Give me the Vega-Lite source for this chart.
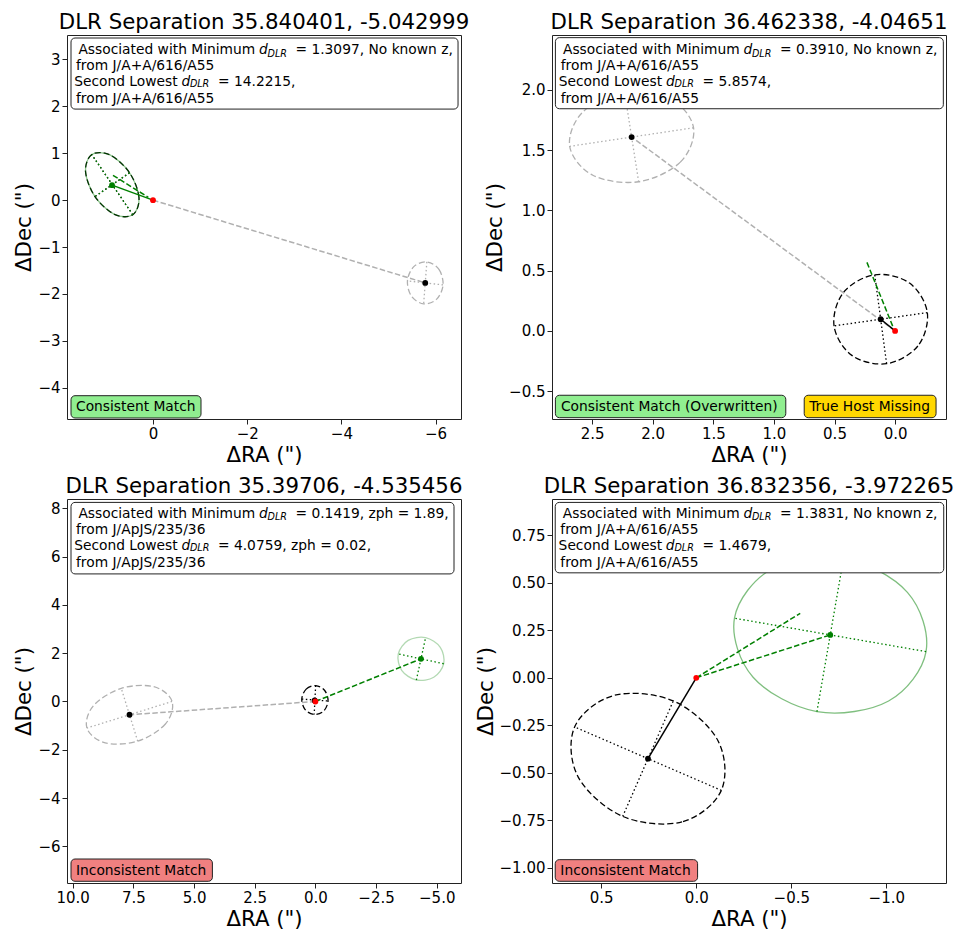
{
"$schema": "https://vega.github.io/schema/vega-lite/v6.json",
"padding": {"left": 13, "top": 11, "right": 5, "bottom": 5},
"columns": 2,
"spacing": {"row": 80, "column": 91},
"bounds": "flush",
"datasets": {
"ell": [
{"panel":"TL","id":"TL1","role":"best","k":0,"x":0.430,"y":-0.312},
{"panel":"TL","id":"TL1","role":"best","k":1,"x":0.298,"y":0.056},
{"panel":"TL","id":"TL1","role":"best","k":2,"x":0.498,"y":0.584},
{"panel":"TL","id":"TL1","role":"best","k":3,"x":0.913,"y":0.964},
{"panel":"TL","id":"TL1","role":"best","k":4,"x":1.300,"y":0.972},
{"panel":"TL","id":"TL1","role":"best","k":5,"x":1.432,"y":0.604},
{"panel":"TL","id":"TL1","role":"best","k":6,"x":1.232,"y":0.076},
{"panel":"TL","id":"TL1","role":"best","k":7,"x":0.817,"y":-0.304},
{"panel":"TL","id":"TL2","role":"true","k":0,"x":0.430,"y":-0.312},
{"panel":"TL","id":"TL2","role":"true","k":1,"x":0.298,"y":0.056},
{"panel":"TL","id":"TL2","role":"true","k":2,"x":0.498,"y":0.584},
{"panel":"TL","id":"TL2","role":"true","k":3,"x":0.913,"y":0.964},
{"panel":"TL","id":"TL2","role":"true","k":4,"x":1.300,"y":0.972},
{"panel":"TL","id":"TL2","role":"true","k":5,"x":1.432,"y":0.604},
{"panel":"TL","id":"TL2","role":"true","k":6,"x":1.232,"y":0.076},
{"panel":"TL","id":"TL2","role":"true","k":7,"x":0.817,"y":-0.304},
{"panel":"TL","id":"TL3","role":"second","k":0,"x":-5.814,"y":-1.317},
{"panel":"TL","id":"TL3","role":"second","k":1,"x":-6.071,"y":-1.479},
{"panel":"TL","id":"TL3","role":"second","k":2,"x":-6.158,"y":-1.808},
{"panel":"TL","id":"TL3","role":"second","k":3,"x":-6.023,"y":-2.112},
{"panel":"TL","id":"TL3","role":"second","k":4,"x":-5.746,"y":-2.213},
{"panel":"TL","id":"TL3","role":"second","k":5,"x":-5.489,"y":-2.051},
{"panel":"TL","id":"TL3","role":"second","k":6,"x":-5.402,"y":-1.722},
{"panel":"TL","id":"TL3","role":"second","k":7,"x":-5.537,"y":-1.418},
{"panel":"TR","id":"TR1","role":"best","k":0,"x":-0.266,"y":0.152},
{"panel":"TR","id":"TR1","role":"best","k":1,"x":-0.188,"y":-0.125},
{"panel":"TR","id":"TR1","role":"best","k":2,"x":0.070,"y":-0.272},
{"panel":"TR","id":"TR1","role":"best","k":3,"x":0.357,"y":-0.203},
{"panel":"TR","id":"TR1","role":"best","k":4,"x":0.504,"y":0.042},
{"panel":"TR","id":"TR1","role":"best","k":5,"x":0.426,"y":0.319},
{"panel":"TR","id":"TR1","role":"best","k":6,"x":0.168,"y":0.466},
{"panel":"TR","id":"TR1","role":"best","k":7,"x":-0.119,"y":0.397},
{"panel":"TR","id":"TR2","role":"second","k":0,"x":1.663,"y":1.686},
{"panel":"TR","id":"TR2","role":"second","k":1,"x":1.772,"y":1.401},
{"panel":"TR","id":"TR2","role":"second","k":2,"x":2.116,"y":1.238},
{"panel":"TR","id":"TR2","role":"second","k":3,"x":2.494,"y":1.292},
{"panel":"TR","id":"TR2","role":"second","k":4,"x":2.685,"y":1.532},
{"panel":"TR","id":"TR2","role":"second","k":5,"x":2.576,"y":1.817},
{"panel":"TR","id":"TR2","role":"second","k":6,"x":2.232,"y":1.980},
{"panel":"TR","id":"TR2","role":"second","k":7,"x":1.854,"y":1.926},
{"panel":"BL","id":"BL1","role":"best","k":0,"x":0.560,"y":0.100},
{"panel":"BL","id":"BL1","role":"best","k":1,"x":0.381,"y":0.513},
{"panel":"BL","id":"BL1","role":"best","k":2,"x":-0.010,"y":0.660},
{"panel":"BL","id":"BL1","role":"best","k":3,"x":-0.383,"y":0.456},
{"panel":"BL","id":"BL1","role":"best","k":4,"x":-0.520,"y":0.020},
{"panel":"BL","id":"BL1","role":"best","k":5,"x":-0.341,"y":-0.393},
{"panel":"BL","id":"BL1","role":"best","k":6,"x":0.050,"y":-0.540},
{"panel":"BL","id":"BL1","role":"best","k":7,"x":0.423,"y":-0.336},
{"panel":"BL","id":"BL2","role":"true","k":0,"x":-5.285,"y":1.564},
{"panel":"BL","id":"BL2","role":"true","k":1,"x":-4.877,"y":1.003},
{"panel":"BL","id":"BL2","role":"true","k":2,"x":-4.160,"y":0.890},
{"panel":"BL","id":"BL2","role":"true","k":3,"x":-3.555,"y":1.290},
{"panel":"BL","id":"BL2","role":"true","k":4,"x":-3.415,"y":1.970},
{"panel":"BL","id":"BL2","role":"true","k":5,"x":-3.823,"y":2.531},
{"panel":"BL","id":"BL2","role":"true","k":6,"x":-4.540,"y":2.644},
{"panel":"BL","id":"BL2","role":"true","k":7,"x":-5.145,"y":2.244},
{"panel":"BL","id":"BL3","role":"second","k":0,"x":5.905,"y":0.001},
{"panel":"BL","id":"BL3","role":"second","k":1,"x":6.180,"y":-0.933},
{"panel":"BL","id":"BL3","role":"second","k":2,"x":7.322,"y":-1.643},
{"panel":"BL","id":"BL3","role":"second","k":3,"x":8.662,"y":-1.713},
{"panel":"BL","id":"BL3","role":"second","k":4,"x":9.415,"y":-1.101},
{"panel":"BL","id":"BL3","role":"second","k":5,"x":9.140,"y":-0.167},
{"panel":"BL","id":"BL3","role":"second","k":6,"x":7.998,"y":0.543},
{"panel":"BL","id":"BL3","role":"second","k":7,"x":6.658,"y":0.613},
{"panel":"BR","id":"BR1","role":"best","k":0,"x":-0.132,"y":-0.593},
{"panel":"BR","id":"BR1","role":"best","k":1,"x":0.075,"y":-0.759},
{"panel":"BR","id":"BR1","role":"best","k":2,"x":0.387,"y":-0.730},
{"panel":"BR","id":"BR1","role":"best","k":3,"x":0.621,"y":-0.523},
{"panel":"BR","id":"BR1","role":"best","k":4,"x":0.640,"y":-0.259},
{"panel":"BR","id":"BR1","role":"best","k":5,"x":0.433,"y":-0.093},
{"panel":"BR","id":"BR1","role":"best","k":6,"x":0.121,"y":-0.122},
{"panel":"BR","id":"BR1","role":"best","k":7,"x":-0.113,"y":-0.329},
{"panel":"BR","id":"BR2","role":"true","k":0,"x":-1.209,"y":0.138},
{"panel":"BR","id":"BR2","role":"true","k":1,"x":-1.012,"y":-0.122},
{"panel":"BR","id":"BR2","role":"true","k":2,"x":-0.635,"y":-0.178},
{"panel":"BR","id":"BR2","role":"true","k":3,"x":-0.299,"y":0.003},
{"panel":"BR","id":"BR2","role":"true","k":4,"x":-0.201,"y":0.314},
{"panel":"BR","id":"BR2","role":"true","k":5,"x":-0.398,"y":0.574},
{"panel":"BR","id":"BR2","role":"true","k":6,"x":-0.775,"y":0.630},
{"panel":"BR","id":"BR2","role":"true","k":7,"x":-1.111,"y":0.450}
],
"seg": [
{"panel":"TL","id":"s1","role":"second","k":0,"x":0,"y":0},
{"panel":"TL","id":"s1","role":"second","k":1,"x":-5.78,"y":-1.765},
{"panel":"TL","id":"s2","role":"match","k":0,"x":0.87,"y":0.32},
{"panel":"TL","id":"s2","role":"match","k":1,"x":0,"y":0},
{"panel":"TL","id":"s3","role":"direction","k":0,"x":0.85,"y":0.53},
{"panel":"TL","id":"s3","role":"direction","k":1,"x":0.10,"y":0.06},
{"panel":"TR","id":"s1","role":"second","k":0,"x":0,"y":0},
{"panel":"TR","id":"s1","role":"second","k":1,"x":2.174,"y":1.609},
{"panel":"TR","id":"s2","role":"best","k":0,"x":0.119,"y":0.097},
{"panel":"TR","id":"s2","role":"best","k":1,"x":0,"y":0},
{"panel":"TR","id":"s3","role":"direction","k":0,"x":0.02,"y":0.04},
{"panel":"TR","id":"s3","role":"direction","k":1,"x":0.234,"y":0.573},
{"panel":"BL","id":"s1","role":"second","k":0,"x":0,"y":0},
{"panel":"BL","id":"s1","role":"second","k":1,"x":7.66,"y":-0.55},
{"panel":"BL","id":"s2","role":"true","k":0,"x":0,"y":0},
{"panel":"BL","id":"s2","role":"true","k":1,"x":-4.35,"y":1.767},
{"panel":"BR","id":"s1","role":"best","k":0,"x":0.254,"y":-0.426},
{"panel":"BR","id":"s1","role":"best","k":1,"x":0,"y":0},
{"panel":"BR","id":"s2","role":"true","k":0,"x":0,"y":0},
{"panel":"BR","id":"s2","role":"true","k":1,"x":-0.705,"y":0.226},
{"panel":"BR","id":"s3","role":"direction","k":0,"x":0,"y":0},
{"panel":"BR","id":"s3","role":"direction","k":1,"x":-0.547,"y":0.34}
],
"pts": [
{"panel":"TL","role":"second","x":-5.78,"y":-1.765},
{"panel":"TL","role":"true","x":0.87,"y":0.32},
{"panel":"TL","role":"target","x":0,"y":0},
{"panel":"TR","role":"second","x":2.174,"y":1.609},
{"panel":"TR","role":"best","x":0.119,"y":0.097},
{"panel":"TR","role":"target","x":0,"y":0},
{"panel":"BL","role":"second","x":7.66,"y":-0.55},
{"panel":"BL","role":"best","x":0.03,"y":0.04},
{"panel":"BL","role":"true","x":-4.35,"y":1.767},
{"panel":"BL","role":"target","x":0,"y":0},
{"panel":"BR","role":"best","x":0.254,"y":-0.426},
{"panel":"BR","role":"true","x":-0.705,"y":0.226},
{"panel":"BR","role":"target","x":0,"y":0}
],
"box": [
{"panel":"TL","kind":"info","x":1.741,"x2":-6.476,"y":3.458,"y2":1.942},
{"panel":"TL","kind":"consistent","x":1.741,"x2":-1.019,"y":-4.171,"y2":-4.647},
{"panel":"TR","kind":"info","x":2.803,"x2":-0.398,"y":2.434,"y2":1.844},
{"panel":"TR","kind":"consistent","x":2.803,"x2":0.902,"y":-0.534,"y2":-0.720},
{"panel":"TR","kind":"missing","x":0.750,"x2":-0.338,"y":-0.534,"y2":-0.720},
{"panel":"BL","kind":"info","x":10.070,"x2":-5.711,"y":8.249,"y2":5.286},
{"panel":"BL","kind":"inconsistent","x":10.070,"x2":4.244,"y":-6.527,"y2":-7.450},
{"panel":"BR","kind":"info","x":0.742,"x2":-1.302,"y":0.924,"y2":0.553},
{"panel":"BR","kind":"inconsistent","x":0.742,"x2":-0.007,"y":-0.958,"y2":-1.072}
],
"txt": [
{"panel":"TL","part":"pre","x":-2.170,"y":3.116,"text":"Associated with Minimum"},
{"panel":"TL","part":"d","x":-2.251,"y":3.116,"text":"d"},
{"panel":"TL","part":"sub","x":-2.431,"y":3.063,"text":"DLR"},
{"panel":"TL","part":"body","x":-3.025,"y":3.116,"text":"= 1.3097, No known z,"},
{"panel":"TL","part":"body","x":1.635,"y":2.775,"text":"from J/A+A/616/A55"},
{"panel":"TL","part":"pre","x":-0.522,"y":2.433,"text":"Second Lowest"},
{"panel":"TL","part":"d","x":-0.603,"y":2.433,"text":"d"},
{"panel":"TL","part":"sub","x":-0.783,"y":2.408,"text":"DLR"},
{"panel":"TL","part":"body","x":-1.380,"y":2.433,"text":"= 14.2215,"},
{"panel":"TL","part":"body","x":1.635,"y":2.071,"text":"from J/A+A/616/A55"},
{"panel":"TL","part":"body","x":1.635,"y":-4.504,"text":"Consistent Match"},
{"panel":"TR","part":"pre","x":1.282,"y":2.298,"text":"Associated with Minimum"},
{"panel":"TR","part":"d","x":1.251,"y":2.298,"text":"d"},
{"panel":"TR","part":"sub","x":1.181,"y":2.277,"text":"DLR"},
{"panel":"TR","part":"body","x":0.950,"y":2.298,"text":"= 0.3910, No known z,"},
{"panel":"TR","part":"body","x":2.759,"y":2.165,"text":"from J/A+A/616/A55"},
{"panel":"TR","part":"pre","x":1.922,"y":2.032,"text":"Second Lowest"},
{"panel":"TR","part":"d","x":1.890,"y":2.032,"text":"d"},
{"panel":"TR","part":"sub","x":1.820,"y":2.022,"text":"DLR"},
{"panel":"TR","part":"body","x":1.589,"y":2.032,"text":"= 5.8574,"},
{"panel":"TR","part":"body","x":2.759,"y":1.891,"text":"from J/A+A/616/A55"},
{"panel":"TR","part":"body","x":2.757,"y":-0.664,"text":"Consistent Match (Overwritten)"},
{"panel":"TR","part":"body","x":0.709,"y":-0.664,"text":"True Host Missing"},
{"panel":"BL","part":"pre","x":2.480,"y":7.604,"text":"Associated with Minimum"},
{"panel":"BL","part":"d","x":2.324,"y":7.604,"text":"d"},
{"panel":"BL","part":"sub","x":1.974,"y":7.500,"text":"DLR"},
{"panel":"BL","part":"body","x":0.820,"y":7.604,"text":"= 0.1419, zph = 1.89,"},
{"panel":"BL","part":"body","x":9.864,"y":6.941,"text":"from J/ApJS/235/36"},
{"panel":"BL","part":"pre","x":5.678,"y":6.279,"text":"Second Lowest"},
{"panel":"BL","part":"d","x":5.521,"y":6.279,"text":"d"},
{"panel":"BL","part":"sub","x":5.171,"y":6.229,"text":"DLR"},
{"panel":"BL","part":"body","x":4.013,"y":6.279,"text":"= 4.0759, zph = 0.02,"},
{"panel":"BL","part":"body","x":9.864,"y":5.575,"text":"from J/ApJS/235/36"},
{"panel":"BL","part":"body","x":9.864,"y":-7.173,"text":"Inconsistent Match"},
{"panel":"BR","part":"pre","x":-0.228,"y":0.842,"text":"Associated with Minimum"},
{"panel":"BR","part":"d","x":-0.248,"y":0.842,"text":"d"},
{"panel":"BR","part":"sub","x":-0.293,"y":0.829,"text":"DLR"},
{"panel":"BR","part":"body","x":-0.441,"y":0.842,"text":"= 1.3831, No known z,"},
{"panel":"BR","part":"body","x":0.715,"y":0.758,"text":"from J/A+A/616/A55"},
{"panel":"BR","part":"pre","x":0.180,"y":0.674,"text":"Second Lowest"},
{"panel":"BR","part":"d","x":0.160,"y":0.674,"text":"d"},
{"panel":"BR","part":"sub","x":0.115,"y":0.667,"text":"DLR"},
{"panel":"BR","part":"body","x":-0.033,"y":0.674,"text":"= 1.4679,"},
{"panel":"BR","part":"body","x":0.715,"y":0.584,"text":"from J/A+A/616/A55"},
{"panel":"BR","part":"body","x":0.715,"y":-1.037,"text":"Inconsistent Match"}
]
},
"concat": [
{
"width": 394, "height": 384,
"title": "DLR Separation 35.840401, -5.042999",
"encoding": {
"x": {"field": "x", "type": "quantitative", "scale": {"domain": [-6.539, 1.826], "reverse": true, "nice": false, "zero": false}, "axis": {"values": [0, -2, -4, -6], "format": ".0f", "title": "ΔRA (\")"}},
"y": {"field": "y", "type": "quantitative", "scale": {"domain": [-4.668, 3.522], "nice": false, "zero": false}, "axis": {"values": [-4, -3, -2, -1, 0, 1, 2, 3], "format": ".0f", "title": "ΔDec (\")"}}
},
"layer": [
{"data": {"name": "ell"}, "transform": [{"filter": "datum.panel==='TL' && datum.role!=='true'"}], "mark": {"type": "line", "interpolate": "cardinal-closed", "strokeDash": [6, 3], "strokeWidth": 1.3, "clip": true}, "encoding": {"detail": {"field": "id", "type": "nominal"}, "order": {"field": "k", "type": "quantitative"}, "color": {"field": "role", "type": "nominal", "scale": {"domain": ["best", "second", "true", "match", "direction"], "range": ["#000000", "#b0b0b0", "#008000", "#008000", "#008000"]}, "legend": null}}},
{"data": {"name": "ell"}, "transform": [{"filter": "datum.panel==='TL' && datum.role==='true'"}], "mark": {"type": "line", "interpolate": "cardinal-closed", "strokeWidth": 1.3, "opacity": 0.45, "clip": true}, "encoding": {"detail": {"field": "id", "type": "nominal"}, "order": {"field": "k", "type": "quantitative"}, "color": {"field": "role", "type": "nominal", "scale": {"domain": ["best", "second", "true", "match", "direction"], "range": ["#000000", "#b0b0b0", "#008000", "#008000", "#008000"]}, "legend": null}}},
{"data": {"name": "ell"}, "transform": [{"filter": "datum.panel==='TL' && (datum.k===0 || datum.k===4)"}], "mark": {"type": "line", "strokeDash": [1.5, 2.5], "strokeWidth": 1.3, "clip": true}, "encoding": {"detail": {"field": "id", "type": "nominal"}, "order": {"field": "k", "type": "quantitative"}, "color": {"field": "role", "type": "nominal", "scale": {"domain": ["best", "second", "true", "match", "direction"], "range": ["#000000", "#b0b0b0", "#008000", "#008000", "#008000"]}, "legend": null}, "opacity": {"field": "role", "type": "nominal", "scale": {"domain": ["best", "second", "true"], "range": [1, 1, 0.45]}, "legend": null}}},
{"data": {"name": "ell"}, "transform": [{"filter": "datum.panel==='TL' && (datum.k===2 || datum.k===6)"}], "mark": {"type": "line", "strokeDash": [1.5, 2.5], "strokeWidth": 1.3, "clip": true}, "encoding": {"detail": {"field": "id", "type": "nominal"}, "order": {"field": "k", "type": "quantitative"}, "color": {"field": "role", "type": "nominal", "scale": {"domain": ["best", "second", "true", "match", "direction"], "range": ["#000000", "#b0b0b0", "#008000", "#008000", "#008000"]}, "legend": null}, "opacity": {"field": "role", "type": "nominal", "scale": {"domain": ["best", "second", "true"], "range": [1, 1, 0.45]}, "legend": null}}},
{"data": {"name": "seg"}, "transform": [{"filter": "datum.panel==='TL' && (datum.role==='best' || datum.role==='match')"}], "mark": {"type": "line", "strokeWidth": 1.5, "clip": true}, "encoding": {"detail": {"field": "id", "type": "nominal"}, "order": {"field": "k", "type": "quantitative"}, "color": {"field": "role", "type": "nominal", "scale": {"domain": ["best", "second", "true", "match", "direction"], "range": ["#000000", "#b0b0b0", "#008000", "#008000", "#008000"]}, "legend": null}}},
{"data": {"name": "seg"}, "transform": [{"filter": "datum.panel==='TL' && datum.role!=='best' && datum.role!=='match'"}], "mark": {"type": "line", "strokeWidth": 1.5, "strokeDash": [5.5, 2.4], "clip": true}, "encoding": {"detail": {"field": "id", "type": "nominal"}, "order": {"field": "k", "type": "quantitative"}, "color": {"field": "role", "type": "nominal", "scale": {"domain": ["best", "second", "true", "match", "direction"], "range": ["#000000", "#b0b0b0", "#008000", "#008000", "#008000"]}, "legend": null}}},
{"data": {"name": "pts"}, "transform": [{"filter": "datum.panel==='TL'"}], "mark": {"type": "point", "filled": true, "size": 34, "opacity": 1, "strokeWidth": 0}, "encoding": {"fill": {"field": "role", "type": "nominal", "scale": {"domain": ["target", "best", "second", "true", "info", "consistent", "missing", "inconsistent"], "range": ["#ff0000", "#000000", "#000000", "#008000", "#ffffff", "#90ee90", "#ffd700", "#f08080"]}, "legend": null}}},
{"data": {"name": "box"}, "transform": [{"filter": "datum.panel==='TL'"}], "mark": {"type": "rect", "cornerRadius": 4, "stroke": "#222222", "strokeWidth": 1}, "encoding": {"x2": {"field": "x2"}, "y2": {"field": "y2"}, "fill": {"field": "kind", "type": "nominal", "scale": {"domain": ["target", "best", "second", "true", "info", "consistent", "missing", "inconsistent"], "range": ["#ff0000", "#000000", "#000000", "#008000", "#ffffff", "#90ee90", "#ffd700", "#f08080"]}, "legend": null}}},
{"data": {"name": "txt"}, "transform": [{"filter": "datum.panel==='TL' && datum.part==='body'"}], "mark": {"type": "text", "align": "left", "baseline": "alphabetic", "fontSize": 13.8, "font": "DejaVu Sans", "color": "#000000"}, "encoding": {"text": {"field": "text"}}},
{"data": {"name": "txt"}, "transform": [{"filter": "datum.panel==='TL' && datum.part==='pre'"}], "mark": {"type": "text", "align": "right", "baseline": "alphabetic", "fontSize": 13.8, "font": "DejaVu Sans", "color": "#000000"}, "encoding": {"text": {"field": "text"}}},
{"data": {"name": "txt"}, "transform": [{"filter": "datum.panel==='TL' && datum.part==='d'"}], "mark": {"type": "text", "align": "left", "baseline": "alphabetic", "fontSize": 13.8, "fontStyle": "italic", "font": "DejaVu Sans", "color": "#000000"}, "encoding": {"text": {"field": "text"}}},
{"data": {"name": "txt"}, "transform": [{"filter": "datum.panel==='TL' && datum.part==='sub'"}], "mark": {"type": "text", "align": "left", "baseline": "alphabetic", "fontSize": 9.6, "fontStyle": "italic", "font": "DejaVu Sans", "color": "#000000"}, "encoding": {"text": {"field": "text"}}}
]
},
{
"width": 394, "height": 384,
"title": "DLR Separation 36.462338, -4.04651",
"encoding": {
"x": {"field": "x", "type": "quantitative", "scale": {"domain": [-0.420, 2.831], "reverse": true, "nice": false, "zero": false}, "axis": {"values": [2.5, 2.0, 1.5, 1.0, 0.5, 0.0], "format": ".1f", "title": "ΔRA (\")"}},
"y": {"field": "y", "type": "quantitative", "scale": {"domain": [-0.731, 2.456], "nice": false, "zero": false}, "axis": {"values": [-0.5, 0, 0.5, 1.0, 1.5, 2.0], "format": ".1f", "title": "ΔDec (\")"}}
},
"layer": [
{"data": {"name": "ell"}, "transform": [{"filter": "datum.panel==='TR' && datum.role!=='true'"}], "mark": {"type": "line", "interpolate": "cardinal-closed", "strokeDash": [6, 3], "strokeWidth": 1.3, "clip": true}, "encoding": {"detail": {"field": "id", "type": "nominal"}, "order": {"field": "k", "type": "quantitative"}, "color": {"field": "role", "type": "nominal", "scale": {"domain": ["best", "second", "true", "match", "direction"], "range": ["#000000", "#b0b0b0", "#008000", "#008000", "#008000"]}, "legend": null}}},
{"data": {"name": "ell"}, "transform": [{"filter": "datum.panel==='TR' && (datum.k===0 || datum.k===4)"}], "mark": {"type": "line", "strokeDash": [1.5, 2.5], "strokeWidth": 1.3, "clip": true}, "encoding": {"detail": {"field": "id", "type": "nominal"}, "order": {"field": "k", "type": "quantitative"}, "color": {"field": "role", "type": "nominal", "scale": {"domain": ["best", "second", "true", "match", "direction"], "range": ["#000000", "#b0b0b0", "#008000", "#008000", "#008000"]}, "legend": null}, "opacity": {"field": "role", "type": "nominal", "scale": {"domain": ["best", "second", "true"], "range": [1, 1, 0.45]}, "legend": null}}},
{"data": {"name": "ell"}, "transform": [{"filter": "datum.panel==='TR' && (datum.k===2 || datum.k===6)"}], "mark": {"type": "line", "strokeDash": [1.5, 2.5], "strokeWidth": 1.3, "clip": true}, "encoding": {"detail": {"field": "id", "type": "nominal"}, "order": {"field": "k", "type": "quantitative"}, "color": {"field": "role", "type": "nominal", "scale": {"domain": ["best", "second", "true", "match", "direction"], "range": ["#000000", "#b0b0b0", "#008000", "#008000", "#008000"]}, "legend": null}, "opacity": {"field": "role", "type": "nominal", "scale": {"domain": ["best", "second", "true"], "range": [1, 1, 0.45]}, "legend": null}}},
{"data": {"name": "seg"}, "transform": [{"filter": "datum.panel==='TR' && datum.role!=='best' && datum.role!=='match'"}], "mark": {"type": "line", "strokeWidth": 1.5, "strokeDash": [5.5, 2.4], "clip": true}, "encoding": {"detail": {"field": "id", "type": "nominal"}, "order": {"field": "k", "type": "quantitative"}, "color": {"field": "role", "type": "nominal", "scale": {"domain": ["best", "second", "true", "match", "direction"], "range": ["#000000", "#b0b0b0", "#008000", "#008000", "#008000"]}, "legend": null}}},
{"data": {"name": "seg"}, "transform": [{"filter": "datum.panel==='TR' && (datum.role==='best' || datum.role==='match')"}], "mark": {"type": "line", "strokeWidth": 1.5, "clip": true}, "encoding": {"detail": {"field": "id", "type": "nominal"}, "order": {"field": "k", "type": "quantitative"}, "color": {"field": "role", "type": "nominal", "scale": {"domain": ["best", "second", "true", "match", "direction"], "range": ["#000000", "#b0b0b0", "#008000", "#008000", "#008000"]}, "legend": null}}},
{"data": {"name": "pts"}, "transform": [{"filter": "datum.panel==='TR'"}], "mark": {"type": "point", "filled": true, "size": 34, "opacity": 1, "strokeWidth": 0}, "encoding": {"fill": {"field": "role", "type": "nominal", "scale": {"domain": ["target", "best", "second", "true", "info", "consistent", "missing", "inconsistent"], "range": ["#ff0000", "#000000", "#000000", "#008000", "#ffffff", "#90ee90", "#ffd700", "#f08080"]}, "legend": null}}},
{"data": {"name": "box"}, "transform": [{"filter": "datum.panel==='TR'"}], "mark": {"type": "rect", "cornerRadius": 4, "stroke": "#222222", "strokeWidth": 1}, "encoding": {"x2": {"field": "x2"}, "y2": {"field": "y2"}, "fill": {"field": "kind", "type": "nominal", "scale": {"domain": ["target", "best", "second", "true", "info", "consistent", "missing", "inconsistent"], "range": ["#ff0000", "#000000", "#000000", "#008000", "#ffffff", "#90ee90", "#ffd700", "#f08080"]}, "legend": null}}},
{"data": {"name": "txt"}, "transform": [{"filter": "datum.panel==='TR' && datum.part==='body'"}], "mark": {"type": "text", "align": "left", "baseline": "alphabetic", "fontSize": 13.8, "font": "DejaVu Sans", "color": "#000000"}, "encoding": {"text": {"field": "text"}}},
{"data": {"name": "txt"}, "transform": [{"filter": "datum.panel==='TR' && datum.part==='pre'"}], "mark": {"type": "text", "align": "right", "baseline": "alphabetic", "fontSize": 13.8, "font": "DejaVu Sans", "color": "#000000"}, "encoding": {"text": {"field": "text"}}},
{"data": {"name": "txt"}, "transform": [{"filter": "datum.panel==='TR' && datum.part==='d'"}], "mark": {"type": "text", "align": "left", "baseline": "alphabetic", "fontSize": 13.8, "fontStyle": "italic", "font": "DejaVu Sans", "color": "#000000"}, "encoding": {"text": {"field": "text"}}},
{"data": {"name": "txt"}, "transform": [{"filter": "datum.panel==='TR' && datum.part==='sub'"}], "mark": {"type": "text", "align": "left", "baseline": "alphabetic", "fontSize": 9.6, "fontStyle": "italic", "font": "DejaVu Sans", "color": "#000000"}, "encoding": {"text": {"field": "text"}}}
]
},
{
"width": 394, "height": 384,
"title": "DLR Separation 35.39706, -4.535456",
"encoding": {
"x": {"field": "x", "type": "quantitative", "scale": {"domain": [-5.999, 10.235], "reverse": true, "nice": false, "zero": false}, "axis": {"values": [10, 7.5, 5, 2.5, 0, -2.5, -5], "format": ".1f", "title": "ΔRA (\")"}},
"y": {"field": "y", "type": "quantitative", "scale": {"domain": [-7.521, 8.390], "nice": false, "zero": false}, "axis": {"values": [-6, -4, -2, 0, 2, 4, 6, 8], "format": ".0f", "title": "ΔDec (\")"}}
},
"layer": [
{"data": {"name": "ell"}, "transform": [{"filter": "datum.panel==='BL' && datum.role!=='true'"}], "mark": {"type": "line", "interpolate": "cardinal-closed", "strokeDash": [6, 3], "strokeWidth": 1.3, "clip": true}, "encoding": {"detail": {"field": "id", "type": "nominal"}, "order": {"field": "k", "type": "quantitative"}, "color": {"field": "role", "type": "nominal", "scale": {"domain": ["best", "second", "true", "match", "direction"], "range": ["#000000", "#b0b0b0", "#008000", "#008000", "#008000"]}, "legend": null}}},
{"data": {"name": "ell"}, "transform": [{"filter": "datum.panel==='BL' && datum.role==='true'"}], "mark": {"type": "line", "interpolate": "cardinal-closed", "strokeWidth": 1.3, "opacity": 0.3, "clip": true}, "encoding": {"detail": {"field": "id", "type": "nominal"}, "order": {"field": "k", "type": "quantitative"}, "color": {"field": "role", "type": "nominal", "scale": {"domain": ["best", "second", "true", "match", "direction"], "range": ["#000000", "#b0b0b0", "#008000", "#008000", "#008000"]}, "legend": null}}},
{"data": {"name": "ell"}, "transform": [{"filter": "datum.panel==='BL' && (datum.k===0 || datum.k===4)"}], "mark": {"type": "line", "strokeDash": [1.5, 2.5], "strokeWidth": 1.3, "clip": true}, "encoding": {"detail": {"field": "id", "type": "nominal"}, "order": {"field": "k", "type": "quantitative"}, "color": {"field": "role", "type": "nominal", "scale": {"domain": ["best", "second", "true", "match", "direction"], "range": ["#000000", "#b0b0b0", "#008000", "#008000", "#008000"]}, "legend": null}, "opacity": {"field": "role", "type": "nominal", "scale": {"domain": ["best", "second", "true"], "range": [1, 1, 0.45]}, "legend": null}}},
{"data": {"name": "ell"}, "transform": [{"filter": "datum.panel==='BL' && (datum.k===2 || datum.k===6)"}], "mark": {"type": "line", "strokeDash": [1.5, 2.5], "strokeWidth": 1.3, "clip": true}, "encoding": {"detail": {"field": "id", "type": "nominal"}, "order": {"field": "k", "type": "quantitative"}, "color": {"field": "role", "type": "nominal", "scale": {"domain": ["best", "second", "true", "match", "direction"], "range": ["#000000", "#b0b0b0", "#008000", "#008000", "#008000"]}, "legend": null}, "opacity": {"field": "role", "type": "nominal", "scale": {"domain": ["best", "second", "true"], "range": [1, 1, 0.45]}, "legend": null}}},
{"data": {"name": "seg"}, "transform": [{"filter": "datum.panel==='BL' && datum.role!=='best' && datum.role!=='match'"}], "mark": {"type": "line", "strokeWidth": 1.5, "strokeDash": [5.5, 2.4], "clip": true}, "encoding": {"detail": {"field": "id", "type": "nominal"}, "order": {"field": "k", "type": "quantitative"}, "color": {"field": "role", "type": "nominal", "scale": {"domain": ["best", "second", "true", "match", "direction"], "range": ["#000000", "#b0b0b0", "#008000", "#008000", "#008000"]}, "legend": null}}},
{"data": {"name": "pts"}, "transform": [{"filter": "datum.panel==='BL'"}], "mark": {"type": "point", "filled": true, "size": 34, "opacity": 1, "strokeWidth": 0}, "encoding": {"fill": {"field": "role", "type": "nominal", "scale": {"domain": ["target", "best", "second", "true", "info", "consistent", "missing", "inconsistent"], "range": ["#ff0000", "#000000", "#000000", "#008000", "#ffffff", "#90ee90", "#ffd700", "#f08080"]}, "legend": null}}},
{"data": {"name": "box"}, "transform": [{"filter": "datum.panel==='BL'"}], "mark": {"type": "rect", "cornerRadius": 4, "stroke": "#222222", "strokeWidth": 1}, "encoding": {"x2": {"field": "x2"}, "y2": {"field": "y2"}, "fill": {"field": "kind", "type": "nominal", "scale": {"domain": ["target", "best", "second", "true", "info", "consistent", "missing", "inconsistent"], "range": ["#ff0000", "#000000", "#000000", "#008000", "#ffffff", "#90ee90", "#ffd700", "#f08080"]}, "legend": null}}},
{"data": {"name": "txt"}, "transform": [{"filter": "datum.panel==='BL' && datum.part==='body'"}], "mark": {"type": "text", "align": "left", "baseline": "alphabetic", "fontSize": 13.8, "font": "DejaVu Sans", "color": "#000000"}, "encoding": {"text": {"field": "text"}}},
{"data": {"name": "txt"}, "transform": [{"filter": "datum.panel==='BL' && datum.part==='pre'"}], "mark": {"type": "text", "align": "right", "baseline": "alphabetic", "fontSize": 13.8, "font": "DejaVu Sans", "color": "#000000"}, "encoding": {"text": {"field": "text"}}},
{"data": {"name": "txt"}, "transform": [{"filter": "datum.panel==='BL' && datum.part==='d'"}], "mark": {"type": "text", "align": "left", "baseline": "alphabetic", "fontSize": 13.8, "fontStyle": "italic", "font": "DejaVu Sans", "color": "#000000"}, "encoding": {"text": {"field": "text"}}},
{"data": {"name": "txt"}, "transform": [{"filter": "datum.panel==='BL' && datum.part==='sub'"}], "mark": {"type": "text", "align": "left", "baseline": "alphabetic", "fontSize": 9.6, "fontStyle": "italic", "font": "DejaVu Sans", "color": "#000000"}, "encoding": {"text": {"field": "text"}}}
]
},
{
"width": 394, "height": 384,
"title": "DLR Separation 36.832356, -3.972265",
"encoding": {
"x": {"field": "x", "type": "quantitative", "scale": {"domain": [-1.314, 0.759], "reverse": true, "nice": false, "zero": false}, "axis": {"values": [0.5, 0, -0.5, -1.0], "format": ".1f", "title": "ΔRA (\")"}},
"y": {"field": "y", "type": "quantitative", "scale": {"domain": [-1.081, 0.942], "nice": false, "zero": false}, "axis": {"values": [-1.0, -0.75, -0.5, -0.25, 0, 0.25, 0.5, 0.75], "format": ".2f", "title": "ΔDec (\")"}}
},
"layer": [
{"data": {"name": "ell"}, "transform": [{"filter": "datum.panel==='BR' && datum.role!=='true'"}], "mark": {"type": "line", "interpolate": "cardinal-closed", "strokeDash": [6, 3], "strokeWidth": 1.3, "clip": true}, "encoding": {"detail": {"field": "id", "type": "nominal"}, "order": {"field": "k", "type": "quantitative"}, "color": {"field": "role", "type": "nominal", "scale": {"domain": ["best", "second", "true", "match", "direction"], "range": ["#000000", "#b0b0b0", "#008000", "#008000", "#008000"]}, "legend": null}}},
{"data": {"name": "ell"}, "transform": [{"filter": "datum.panel==='BR' && datum.role==='true'"}], "mark": {"type": "line", "interpolate": "cardinal-closed", "strokeWidth": 1.3, "opacity": 0.5, "clip": true}, "encoding": {"detail": {"field": "id", "type": "nominal"}, "order": {"field": "k", "type": "quantitative"}, "color": {"field": "role", "type": "nominal", "scale": {"domain": ["best", "second", "true", "match", "direction"], "range": ["#000000", "#b0b0b0", "#008000", "#008000", "#008000"]}, "legend": null}}},
{"data": {"name": "ell"}, "transform": [{"filter": "datum.panel==='BR' && (datum.k===0 || datum.k===4)"}], "mark": {"type": "line", "strokeDash": [1.5, 2.5], "strokeWidth": 1.3, "clip": true}, "encoding": {"detail": {"field": "id", "type": "nominal"}, "order": {"field": "k", "type": "quantitative"}, "color": {"field": "role", "type": "nominal", "scale": {"domain": ["best", "second", "true", "match", "direction"], "range": ["#000000", "#b0b0b0", "#008000", "#008000", "#008000"]}, "legend": null}, "opacity": {"field": "role", "type": "nominal", "scale": {"domain": ["best", "second", "true"], "range": [1, 1, 0.45]}, "legend": null}}},
{"data": {"name": "ell"}, "transform": [{"filter": "datum.panel==='BR' && (datum.k===2 || datum.k===6)"}], "mark": {"type": "line", "strokeDash": [1.5, 2.5], "strokeWidth": 1.3, "clip": true}, "encoding": {"detail": {"field": "id", "type": "nominal"}, "order": {"field": "k", "type": "quantitative"}, "color": {"field": "role", "type": "nominal", "scale": {"domain": ["best", "second", "true", "match", "direction"], "range": ["#000000", "#b0b0b0", "#008000", "#008000", "#008000"]}, "legend": null}, "opacity": {"field": "role", "type": "nominal", "scale": {"domain": ["best", "second", "true"], "range": [1, 1, 0.45]}, "legend": null}}},
{"data": {"name": "seg"}, "transform": [{"filter": "datum.panel==='BR' && datum.role!=='best' && datum.role!=='match'"}], "mark": {"type": "line", "strokeWidth": 1.5, "strokeDash": [5.5, 2.4], "clip": true}, "encoding": {"detail": {"field": "id", "type": "nominal"}, "order": {"field": "k", "type": "quantitative"}, "color": {"field": "role", "type": "nominal", "scale": {"domain": ["best", "second", "true", "match", "direction"], "range": ["#000000", "#b0b0b0", "#008000", "#008000", "#008000"]}, "legend": null}}},
{"data": {"name": "seg"}, "transform": [{"filter": "datum.panel==='BR' && (datum.role==='best' || datum.role==='match')"}], "mark": {"type": "line", "strokeWidth": 1.5, "clip": true}, "encoding": {"detail": {"field": "id", "type": "nominal"}, "order": {"field": "k", "type": "quantitative"}, "color": {"field": "role", "type": "nominal", "scale": {"domain": ["best", "second", "true", "match", "direction"], "range": ["#000000", "#b0b0b0", "#008000", "#008000", "#008000"]}, "legend": null}}},
{"data": {"name": "pts"}, "transform": [{"filter": "datum.panel==='BR'"}], "mark": {"type": "point", "filled": true, "size": 34, "opacity": 1, "strokeWidth": 0}, "encoding": {"fill": {"field": "role", "type": "nominal", "scale": {"domain": ["target", "best", "second", "true", "info", "consistent", "missing", "inconsistent"], "range": ["#ff0000", "#000000", "#000000", "#008000", "#ffffff", "#90ee90", "#ffd700", "#f08080"]}, "legend": null}}},
{"data": {"name": "box"}, "transform": [{"filter": "datum.panel==='BR'"}], "mark": {"type": "rect", "cornerRadius": 4, "stroke": "#222222", "strokeWidth": 1}, "encoding": {"x2": {"field": "x2"}, "y2": {"field": "y2"}, "fill": {"field": "kind", "type": "nominal", "scale": {"domain": ["target", "best", "second", "true", "info", "consistent", "missing", "inconsistent"], "range": ["#ff0000", "#000000", "#000000", "#008000", "#ffffff", "#90ee90", "#ffd700", "#f08080"]}, "legend": null}}},
{"data": {"name": "txt"}, "transform": [{"filter": "datum.panel==='BR' && datum.part==='body'"}], "mark": {"type": "text", "align": "left", "baseline": "alphabetic", "fontSize": 13.8, "font": "DejaVu Sans", "color": "#000000"}, "encoding": {"text": {"field": "text"}}},
{"data": {"name": "txt"}, "transform": [{"filter": "datum.panel==='BR' && datum.part==='pre'"}], "mark": {"type": "text", "align": "right", "baseline": "alphabetic", "fontSize": 13.8, "font": "DejaVu Sans", "color": "#000000"}, "encoding": {"text": {"field": "text"}}},
{"data": {"name": "txt"}, "transform": [{"filter": "datum.panel==='BR' && datum.part==='d'"}], "mark": {"type": "text", "align": "left", "baseline": "alphabetic", "fontSize": 13.8, "fontStyle": "italic", "font": "DejaVu Sans", "color": "#000000"}, "encoding": {"text": {"field": "text"}}},
{"data": {"name": "txt"}, "transform": [{"filter": "datum.panel==='BR' && datum.part==='sub'"}], "mark": {"type": "text", "align": "left", "baseline": "alphabetic", "fontSize": 9.6, "fontStyle": "italic", "font": "DejaVu Sans", "color": "#000000"}, "encoding": {"text": {"field": "text"}}}
]
}
],
"config": {
"font": "DejaVu Sans",
"background": "#ffffff",
"view": {"stroke": "#222222", "strokeWidth": 1},
"axis": {"grid": false, "domain": false, "labelFont": "DejaVu Sans", "labelFontSize": 15, "labelColor": "#000000", "tickColor": "#222222", "tickSize": 5, "tickWidth": 1, "labelPadding": 2, "labelFlush": false, "labelOverlap": false, "titleFont": "DejaVu Sans", "titleFontSize": 21.3, "titleFontWeight": "normal", "titleColor": "#000000", "titlePadding": 3},
"title": {"font": "DejaVu Sans", "fontSize": 21.3, "fontWeight": "normal", "color": "#000000", "offset": 2, "anchor": "middle"}
}
}
